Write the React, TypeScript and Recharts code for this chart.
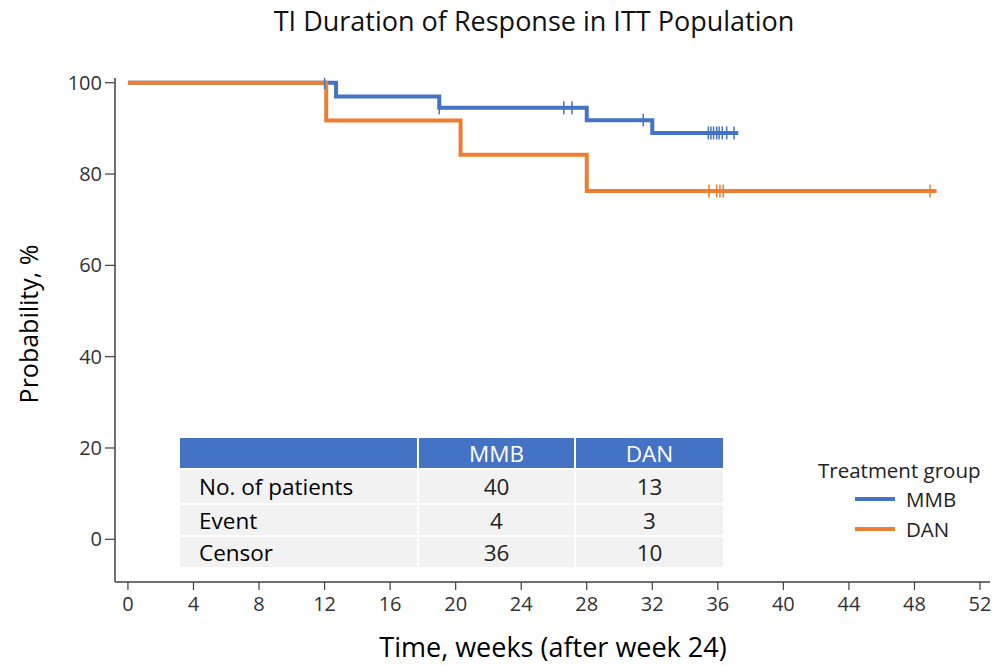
import React from 'react';
import { ComposedChart, Line, Scatter, XAxis, YAxis } from 'recharts';

const FONT = "'Open Sans', 'Noto Sans', sans-serif";
const BLUE = '#4472C4';
const ORANGE = '#ED7D31';

// Kaplan-Meier step points (weeks after week 24, probability %)
const mmbWeeks = [0, 12.7, 19.0, 28.0, 32.0, 37.25];
const mmbProb = [100, 97.0, 94.5, 91.8, 89.0, 89.0];
const danWeeks = [0, 12.1, 20.3, 28.0, 49.35];
const danProb = [100, 91.7, 84.2, 76.3, 76.3];

// Censor marks
const mmbCensorWeeks = [12.0, 19.0, 26.6, 27.1, 31.45, 35.42, 35.58, 35.74, 35.93, 36.08, 36.27, 36.54, 36.99];
const mmbCensorProb = [100, 94.5, 94.5, 94.5, 91.8, 89, 89, 89, 89, 89, 89, 89, 89];
const danCensorWeeks = [35.46, 35.93, 36.13, 36.33, 48.95];
const danCensorProb = [76.3, 76.3, 76.3, 76.3, 76.3];

const xTicks = [0, 4, 8, 12, 16, 20, 24, 28, 32, 36, 40, 44, 48, 52];
const yTicks = [0, 20, 40, 60, 80, 100];

// Summary table
const tableHeaders = ['MMB', 'DAN'];
const tableRowLabels = ['No. of patients', 'Event', 'Censor'];
const mmbCounts = [40, 4, 36];
const danCounts = [13, 3, 10];

const legendNames = ['MMB', 'DAN'];
const legendColors = [BLUE, ORANGE];

const zip = (xs: number[], ys: number[]) => xs.map((x, i) => ({ x, y: ys[i] }));
const mmbData = zip(mmbWeeks, mmbProb);
const danData = zip(danWeeks, danProb);
const mmbCensor = zip(mmbCensorWeeks, mmbCensorProb);
const danCensor = zip(danCensorWeeks, danCensorProb);

const censorShape = (color: string) => (props: any) => {
  const { cx, cy } = props;
  if (cx == null || cy == null) return <g />;
  return <line x1={cx} x2={cx} y1={cy - 6.5} y2={cy + 6.5} stroke={color} strokeWidth={1.5} />;
};

const cellBase: React.CSSProperties = {
  position: 'absolute',
  fontFamily: FONT,
  fontSize: 22.5,
  display: 'flex',
  alignItems: 'center',
  boxSizing: 'border-box',
};

export default function App() {
  const colX = [180, 419, 576];
  const colW = [237, 155, 147];
  const rowY = [470, 505, 537];
  const rowH = [33, 30, 30];
  return (
    <div style={{ position: 'absolute', left: 0, top: 0, width: 995, height: 666, background: '#fff', overflow: 'hidden' }}>
      <ComposedChart width={995} height={666} margin={{ top: 78, right: 5, bottom: 44, left: 55 }}>
        <XAxis
          dataKey="x"
          type="number"
          domain={[-0.79, 52.61]}
          ticks={xTicks}
          allowDataOverflow
          height={40}
          tickSize={8}
          tickMargin={7}
          axisLine={{ stroke: '#404040', strokeWidth: 1.5 }}
          tickLine={{ stroke: '#404040', strokeWidth: 1.2 }}
          tick={{ fill: '#333', fontSize: 20, fontFamily: FONT }}
        />
        <YAxis
          type="number"
          domain={[-9.35, 101.03]}
          ticks={yTicks}
          allowDataOverflow
          width={60}
          tickSize={10}
          tickMargin={3}
          axisLine={{ stroke: '#404040', strokeWidth: 1.5 }}
          tickLine={{ stroke: '#404040', strokeWidth: 1.2 }}
          tick={{ fill: '#333', fontSize: 20, fontFamily: FONT }}
        />
        <Line data={mmbData} dataKey="y" type="stepAfter" stroke={BLUE} strokeWidth={4} dot={false} activeDot={false} isAnimationActive={false} />
        <Scatter data={mmbCensor} dataKey="y" fill={BLUE} shape={censorShape(BLUE)} isAnimationActive={false} />
        <Line data={danData} dataKey="y" type="stepAfter" stroke={ORANGE} strokeWidth={4} dot={false} activeDot={false} isAnimationActive={false} />
        <Scatter data={danCensor} dataKey="y" fill={ORANGE} shape={censorShape(ORANGE)} isAnimationActive={false} />
      </ComposedChart>

      {/* Title */}
      <div style={{ position: 'absolute', left: 534, top: 21, width: 0, height: 0 }}>
        <div style={{ position: 'absolute', transform: 'translate(-50%, -50%)', whiteSpace: 'nowrap', fontFamily: FONT, fontSize: 27, lineHeight: '32px', color: '#111' }}>
          TI Duration of Response in ITT Population
        </div>
      </div>
      {/* Y axis label */}
      <div style={{ position: 'absolute', left: 28, top: 324, width: 0, height: 0 }}>
        <div style={{ position: 'absolute', transform: 'translate(-50%, -50%) rotate(-90deg)', whiteSpace: 'nowrap', fontFamily: FONT, fontSize: 25, lineHeight: '30px', color: '#000' }}>
          Probability, %
        </div>
      </div>
      {/* X axis label */}
      <div style={{ position: 'absolute', left: 553, top: 647, width: 0, height: 0 }}>
        <div style={{ position: 'absolute', transform: 'translate(-50%, -50%)', whiteSpace: 'nowrap', fontFamily: FONT, fontSize: 27, lineHeight: '28px', color: '#000' }}>
          Time, weeks (after week 24)
        </div>
      </div>

      {/* Table header */}
      <div style={{ ...cellBase, left: colX[0], top: 438, width: colW[0], height: 30, background: BLUE }} />
      {tableHeaders.map((h, i) => (
        <div key={h} style={{ ...cellBase, left: colX[i + 1], top: 438, width: colW[i + 1], height: 30, background: BLUE, color: '#fff', justifyContent: 'center' }}>
          {h}
        </div>
      ))}
      {tableRowLabels.map((label, r) => (
        <React.Fragment key={label}>
          <div style={{ ...cellBase, left: colX[0], top: rowY[r], width: colW[0], height: rowH[r], background: '#F2F2F2', color: '#000', paddingLeft: 19 }}>
            {label}
          </div>
          <div style={{ ...cellBase, left: colX[1], top: rowY[r], width: colW[1], height: rowH[r], background: '#F2F2F2', color: '#222', justifyContent: 'center' }}>
            {mmbCounts[r]}
          </div>
          <div style={{ ...cellBase, left: colX[2], top: rowY[r], width: colW[2], height: rowH[r], background: '#F2F2F2', color: '#222', justifyContent: 'center' }}>
            {danCounts[r]}
          </div>
        </React.Fragment>
      ))}

      {/* Legend */}
      <div style={{ position: 'absolute', left: 818, top: 456, fontFamily: FONT, fontSize: 20.5, lineHeight: '28px', color: '#222', whiteSpace: 'nowrap' }}>
        Treatment group
      </div>
      {legendNames.map((n, i) => (
        <React.Fragment key={n}>
          <div style={{ position: 'absolute', left: 855, top: 497 + i * 30, width: 40, height: 3.5, background: legendColors[i] }} />
          <div style={{ position: 'absolute', left: 906, top: 485 + i * 30, fontFamily: FONT, fontSize: 20.5, lineHeight: '28px', color: '#222', whiteSpace: 'nowrap' }}>
            {n}
          </div>
        </React.Fragment>
      ))}
    </div>
  );
}
